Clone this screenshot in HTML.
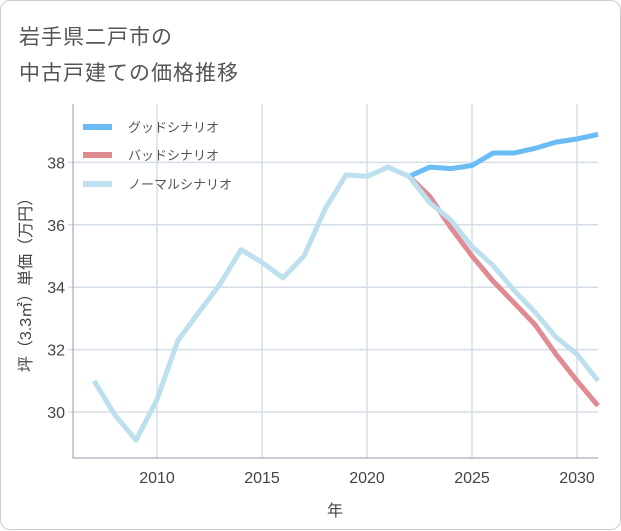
<!DOCTYPE html>
<html><head><meta charset="utf-8"><style>
body{margin:0;background:#fff;}
#card{position:absolute;left:0;top:0;width:619px;height:528px;border:1px solid #ccc;border-radius:10px;background:#fff;font-family:"Liberation Sans","Noto Sans CJK JP",sans-serif;}
.t{position:absolute;left:18px;font-size:21px;color:#555;letter-spacing:1px}
</style></head><body>
<div id="card">
<div class="t" style="top:20px">岩手県二戸市の</div>
<div class="t" style="top:56px">中古戸建ての価格推移</div>
<svg id="chart" width="621" height="530" style="position:absolute;left:0;top:0"></svg>
</div>
<script>
const years=[2007,2008,2009,2010,2011,2012,2013,2014,2015,2016,2017,2018,2019,2020,2021,2022,2023,2024,2025,2026,2027,2028,2029,2030,2031];
const normal=[31.0,29.9,29.1,30.4,32.3,33.2,34.1,35.2,34.8,34.3,35.0,36.5,37.6,37.55,37.85,37.55,36.7,36.15,35.3,34.7,33.9,33.2,32.4,31.85,31.0];
const goodYears=[2022,2023,2024,2025,2026,2027,2028,2029,2030,2031];
const good=[37.55,37.85,37.8,37.9,38.3,38.3,38.45,38.65,38.75,38.9];
const bad=[37.55,36.9,35.9,35.0,34.2,33.5,32.8,31.85,31.0,30.2];
const xTicks=[2010,2015,2020,2025,2030];
const yTicks=[30,32,34,36,38];
const NS='http://www.w3.org/2000/svg',svg=document.getElementById('chart');
const L=72,R=597,T=103,B=457;
const x=v=>156+(v-2010)*21;
const y=v=>411-(v-30)*31.2;
function mk(t,a){const e=document.createElementNS(NS,t);for(const k in a)e.setAttribute(k,a[k]);svg.appendChild(e);return e;}
xTicks.forEach(v=>{
const g=mk('line',{x1:x(v),x2:x(v),y1:T,y2:B,stroke:'#d5dde6','stroke-width':1.5});


const t=mk('text',{x:x(v),y:482,'text-anchor':'middle','font-size':16,fill:'#444'});t.textContent=v;


});
yTicks.forEach(v=>{
const g=mk('line',{x1:L-5,x2:R,y1:y(v),y2:y(v),stroke:'#d5dde6','stroke-width':1.5});


const t=mk('text',{x:L-8,y:y(v)+6,'text-anchor':'end','font-size':16,fill:'#444'});t.textContent=v;


});
const ax=mk('path',{d:`M${L},${T}V${B}H${R}`,fill:'none',stroke:'#aab','stroke-width':1.2});


function line(xs,vs,c,n){const p=mk('polyline',{points:xs.map((v,i)=>x(v)+','+y(vs[i])).join(' '),fill:'none',stroke:c,'stroke-width':5,'stroke-linejoin':'round'});

}
line(goodYears,good,'#6bbcf5','good-scenario-line');
line(goodYears,bad,'#e08a92','bad-scenario-line');
line(years,normal,'#bde0ee','normal-scenario-line');
[['グッドシナリオ','#6bbcf5',126],['バッドシナリオ','#e08a92',154],['ノーマルシナリオ','#bde0ee',183]].forEach((l,i)=>{
const s=mk('line',{x1:82,x2:111,y1:l[2],y2:l[2],stroke:l[1],'stroke-width':6});


const t=mk('text',{x:127,y:l[2]+5,'font-size':13,fill:'#555'});t.textContent=l[0];


});
const xt=mk('text',{x:334,y:515,'text-anchor':'middle','font-size':16,fill:'#444'});xt.textContent='年';


const yt=mk('text',{x:0,y:0,'text-anchor':'middle','font-size':16,fill:'#444',transform:'translate(30,280) rotate(-90)'});yt.textContent='坪（3.3㎡）単価（万円）';


</script>
</body></html>
